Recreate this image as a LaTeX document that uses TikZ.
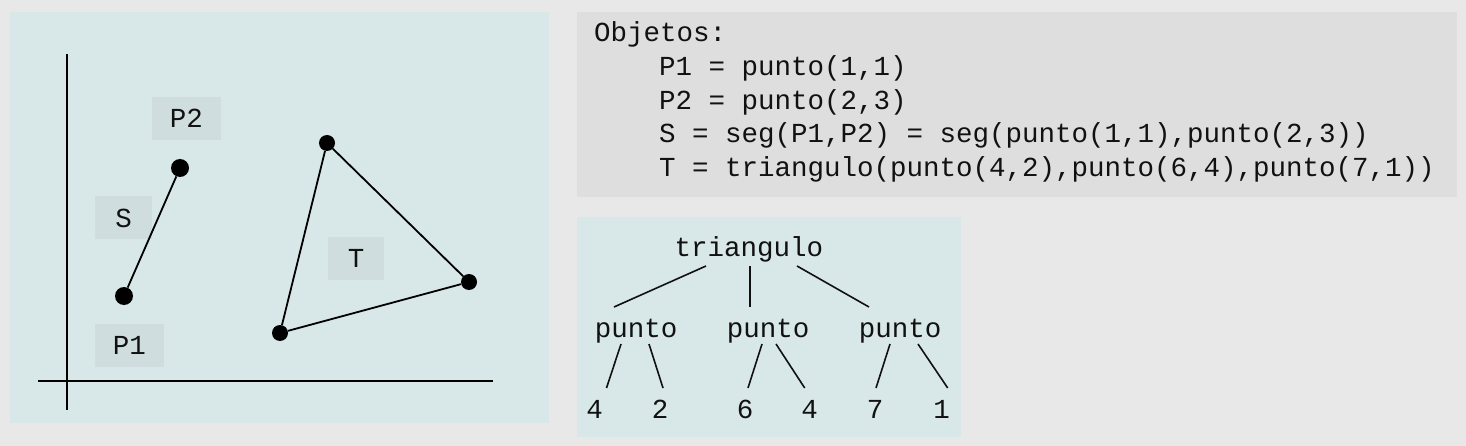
\documentclass[tikz,border=0pt]{standalone}
\usepackage{fontspec}
\newfontfamily\monofam{Liberation Mono}
\definecolor{bgc}{HTML}{E8E8E8}
\definecolor{panelc}{HTML}{D8E7E8}
\definecolor{lblc}{HTML}{CFDDDF}
\definecolor{codec}{HTML}{DEDEDE}
\definecolor{inkc}{HTML}{111111}
\tikzset{
  txt/.style={inner sep=0pt, font=\monofam\fontsize{27.5}{33.8}\selectfont, text=inkc},
  lbl/.style={txt, fill=lblc, minimum height=43pt},
  bigdot/.style={circle, fill=black, inner sep=0pt, minimum size=18pt},
  smalldot/.style={circle, fill=black, inner sep=0pt, minimum size=16pt},
  ln/.style={line width=1.8pt, draw=black},
  tln/.style={line width=1.6pt, draw=inkc},
}
\begin{document}
\begin{tikzpicture}[x=1pt,y=-1pt]
\fill[bgc] (0,0) rectangle (1466,446);
\useasboundingbox (0,0) rectangle (1466,446);
% panels
\fill[panelc] (10,12) rectangle (549,423);
\fill[codec] (577,12) rectangle (1457,197);
\fill[panelc] (577,217) rectangle (961,437);
% axes
\coordinate (ytop) at (67,54);
\coordinate (ybot) at (67,410);
\coordinate (xl) at (38,381);
\coordinate (xr) at (493,381);
\draw[ln] (ytop) -- (ybot);
\draw[ln] (xl) -- (xr);
% labels
\node[lbl, minimum width=69pt] (lp2) at (186.5,118.5) {P2};
\node[lbl, minimum width=57pt] (ls) at (123.5,218) {S};
\node[lbl, minimum width=69pt] (lp1) at (129.5,345.5) {P1};
\node[lbl, minimum width=56pt] (lt) at (356,258.5) {T};
% segment
\node[bigdot] (p1) at (124,296) {};
\node[bigdot] (p2) at (180,168) {};
\draw[ln] (p1) -- (p2);
% triangle
\node[smalldot] (ta) at (327,143) {};
\node[smalldot] (tb) at (469,282) {};
\node[smalldot] (tc) at (280,333) {};
\draw[ln] (ta) -- (tb) -- (tc) -- (ta);
% code
\node[txt, anchor=base west] (c0) at (594,41.5) {Objetos:};
\node[txt, anchor=base west] (c1) at (659,75.5) {P1 = punto(1,1)};
\node[txt, anchor=base west] (c2) at (659,109.5) {P2 = punto(2,3)};
\node[txt, anchor=base west] (c3) at (659,143) {S = seg(P1,P2) = seg(punto(1,1),punto(2,3))};
\node[txt, anchor=base west] (c4) at (659,177) {T = triangulo(punto(4,2),punto(6,4),punto(7,1))};
% tree
\node[txt, anchor=base] (tri) at (749,257) {triangulo};
\node[txt, anchor=base] (q1) at (636,337) {punto};
\node[txt, anchor=base] (q2) at (768,337) {punto};
\node[txt, anchor=base] (q3) at (900,337) {punto};
\node[txt, anchor=base] (l1) at (594.5,418) {4};
\node[txt, anchor=base] (l2) at (660,418) {2};
\node[txt, anchor=base] (l3) at (745,418) {6};
\node[txt, anchor=base] (l4) at (809.7,418) {4};
\node[txt, anchor=base] (l5) at (875,418) {7};
\node[txt, anchor=base] (l6) at (941.7,418) {1};
\draw[tln] ([shift={(-43,9)}]tri.base) -- ([shift={(-22,-30)}]q1.base);
\draw[tln] ([shift={(1,9)}]tri.base) -- ([shift={(-18,-30)}]q2.base);
\draw[tln] ([shift={(48,9)}]tri.base) -- ([shift={(-31,-30)}]q3.base);
\draw[tln] ([shift={(-15,7)}]q1.base) -- ([shift={(12,-30)}]l1.base);
\draw[tln] ([shift={(13,7)}]q1.base) -- ([shift={(3,-30)}]l2.base);
\draw[tln] ([shift={(-6,7)}]q2.base) -- ([shift={(3,-30)}]l3.base);
\draw[tln] ([shift={(8,7)}]q2.base) -- ([shift={(-5,-30)}]l4.base);
\draw[tln] ([shift={(-10,7)}]q3.base) -- ([shift={(1,-30)}]l5.base);
\draw[tln] ([shift={(18,7)}]q3.base) -- ([shift={(6,-30)}]l6.base);
\end{tikzpicture}
\end{document}
